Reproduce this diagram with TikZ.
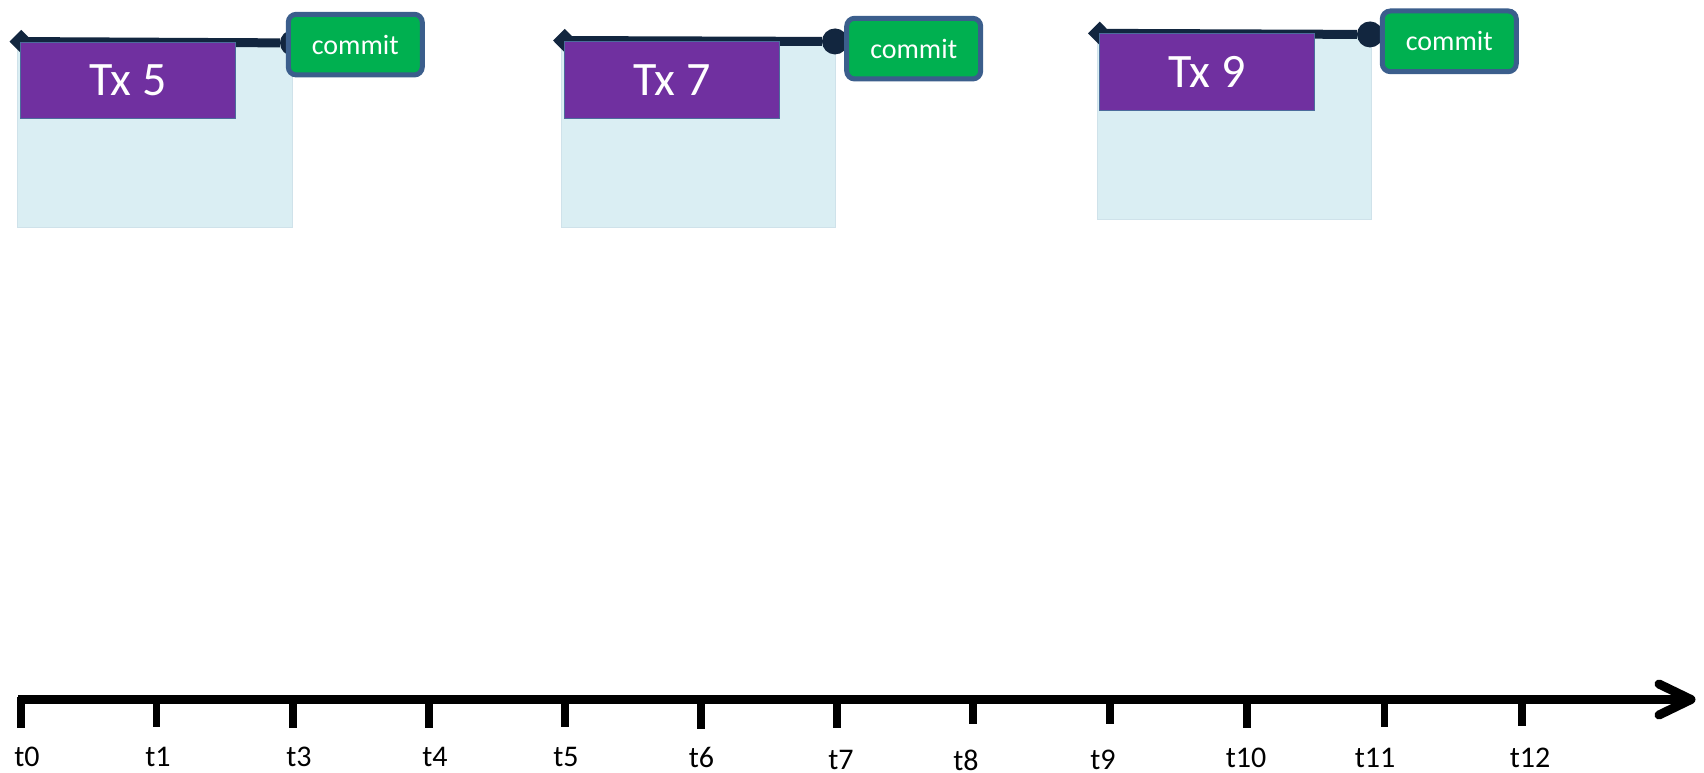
\documentclass[tikz,border=0pt]{standalone}
\usepackage{fontspec}
\setmainfont{Carlito}
\usetikzlibrary{arrows.meta}

\definecolor{paneblue}{HTML}{DAEEF3}
\definecolor{paneedge}{HTML}{CFE2EA}
\definecolor{txpurple}{HTML}{7030A0}
\definecolor{txedge}{HTML}{4C6C9C}
\definecolor{spanline}{HTML}{12263F}
\definecolor{commitgreen}{HTML}{00B050}
\definecolor{commitedge}{HTML}{3B5E8C}

\tikzset{
  pane/.style={fill=paneblue, draw=paneedge, line width=0.5pt, anchor=north west,
    inner sep=0pt, minimum width=205.8pt, minimum height=140pt},
  txbox/.style={fill=txpurple, draw=txedge, line width=0.75pt, anchor=north west,
    inner sep=0pt, minimum width=161.25pt, minimum height=57.5pt,
    text=white, font=\fontsize{36}{36}\selectfont},
  commitbox/.style={fill=commitgreen, draw=commitedge, line width=3.75pt,
    rounded corners=6pt, anchor=north west, inner sep=0pt,
    minimum width=100.5pt, minimum height=45.5pt,
    text=white, font=\fontsize{21}{21}\selectfont},
  span/.style={draw=spanline, line width=6.75pt,
    {Diamond[length=17.5pt, width=17.5pt, line width=0pt]}-{Circle[length=19.5pt, line width=0pt]}},
  axisline/.style={draw=black, line width=6.75pt},
  tickmark/.style={draw=black, line width=5.6pt},
  ticklabel/.style={inner sep=0pt, anchor=center, font=\fontsize{22.5}{22.5}\selectfont}
}

\begin{document}
\begin{tikzpicture}[x=0.75pt, y=-0.75pt]
  \useasboundingbox (0,0) rectangle (1704,773);

  % light panes behind each transaction
  \node[pane] (pane5) at (17.3,40) {};
  \node[pane] (pane7) at (561,40) {};
  \node[pane] (pane9) at (1096.7,32.5) {};

  % span of each transaction, start diamond to commit dot
  \coordinate (s5) at (9.5,41.5);   \coordinate (e5) at (306,43);
  \coordinate (s7) at (553,40.5);   \coordinate (e7) at (848,41.5);
  \coordinate (s9) at (1088,33.3);  \coordinate (e9) at (1383,34.5);
  \draw[span] (s5) -- (e5);
  \draw[span] (s7) -- (e7);
  \draw[span] (s9) -- (e9);

  % transaction titles
  \node[txbox] (tx5) at (20,41.7) {Tx 5};
  \node[txbox] (tx7) at (564,41) {Tx 7};
  \node[txbox] (tx9) at (1099.3,33.3) {Tx 9};

  % commit markers
  \node[commitbox] (commit5) at (285.8,11.8) {commit};
  \node[commitbox] (commit7) at (844.2,15.8) {commit};
  \node[commitbox] (commit9) at (1379.8,8.5) {commit};

  % time axis
  \coordinate (axs) at (18,699.5);
  \coordinate (axe) at (1691,699.5);
  \draw[axisline] (axs) -- (axe);
  \draw[axisline, line cap=round, line join=round]
    ([shift={(-32,-15.5)}]axe) -- (axe) -- ([shift={(-32,15.5)}]axe);

  % ticks and their labels
  \foreach \tx/\tb/\lx/\ly/\lab in {
      21/728/27/757/t0, 156.5/727/158/757/t1, 293/728/299/757/t3,
      429/728/435/757/t4, 565/727/566/757/t5, 701/729/701.5/757/t6,
      837/728/841/760/t7, 973/724/966/760/t8, 1110/724/1103/760/t9,
      1247/728/1246/758/t10, 1384.5/727/1375/758/t11, 1522/726/1530/758/t12} {
    \draw[tickmark] (\tx,697) -- (\tx,\tb);
    \node[ticklabel] (l\lab) at (\lx,\ly) {\lab};
  }
\end{tikzpicture}
\end{document}
